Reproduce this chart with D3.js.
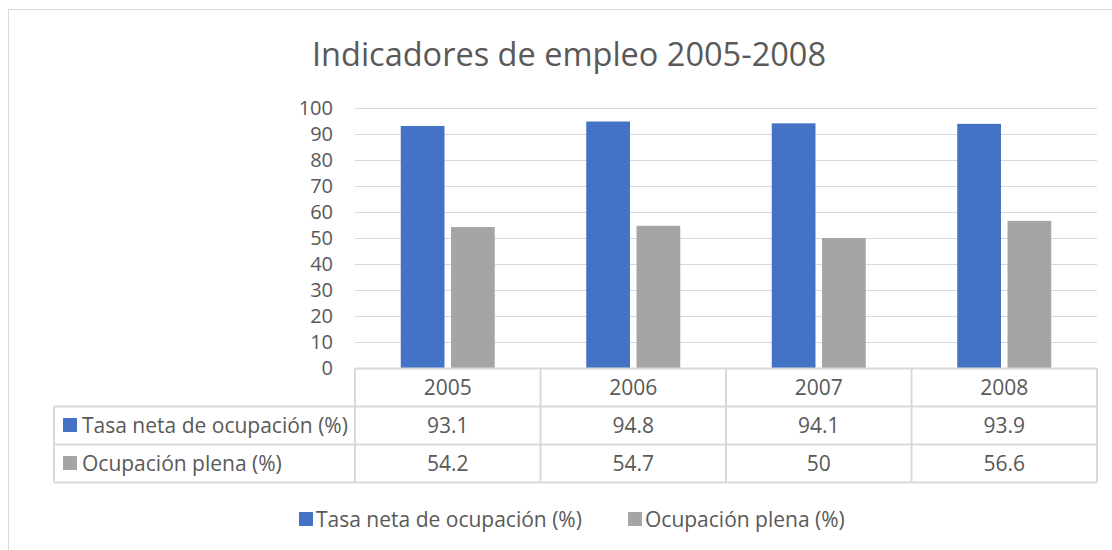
<!DOCTYPE html>
<html>
<head>
<meta charset="utf-8">
<script src="https://cdn.jsdelivr.net/npm/d3@7"></script>
<style>
  body { margin: 0; background: #fff; }
  text { font-family: "Open Sans", "Liberation Sans", sans-serif; fill: #595959; }
</style>
</head>
<body>
<div class="d3Chart"></div>
<script>
// data
var years = ["2005", "2006", "2007", "2008"];
var seriesNames = ["Tasa neta de ocupación (%)", "Ocupación plena (%)"];
var tasaNeta = [93.1, 94.8, 94.1, 93.9];
var ocupacionPlena = [54.2, 54.7, 50, 56.6];
var yTicks = [0, 10, 20, 30, 40, 50, 60, 70, 80, 90, 100];
var colors = ["#4472c4", "#a5a5a5"];

var series = [tasaNeta, ocupacionPlena];

var width = 1112;
var height = 550;
var fontSize = "21px";
var svg = d3.select(".d3Chart").append("svg")
  .attr("width", width)
  .attr("height", height);

// chart frame
svg.append("rect")
  .attr("x", 8.5).attr("y", 9.5)
  .attr("width", 1200).attr("height", 600)
  .attr("fill", "none").attr("stroke", "#d9d9d9").attr("stroke-width", 1);

// title
svg.append("text")
  .attr("x", 569).attr("y", 66)
  .attr("text-anchor", "middle")
  .style("font-size", "32.5px")
  .text("Indicadores de empleo 2005-2008");

// scales
var plotLeft = 355, plotRight = 1097, plotTop = 108, plotBottom = 368;
var x = d3.scaleBand().domain(years).range([plotLeft, plotRight]);
var y = d3.scaleLinear().domain([0, 100]).range([plotBottom, plotTop]);
var inner = d3.scaleBand().domain([0, 1]).range([0, 94]).paddingInner(0.13);

// gridlines
svg.append("g").selectAll("line").data(yTicks.filter(d => d > 0)).enter()
  .append("line")
  .attr("x1", plotLeft).attr("x2", plotRight)
  .attr("y1", d => Math.round(y(d)) + 0.5).attr("y2", d => Math.round(y(d)) + 0.5)
  .attr("stroke", "#d9d9d9").attr("stroke-width", 1);

// y axis labels
var yAxis = svg.append("g")
  .attr("transform", `translate(${plotLeft - 22},0)`)
  .call(d3.axisLeft(y).tickValues(yTicks).tickSize(0).tickPadding(0));
yAxis.select(".domain").remove();
yAxis.selectAll("text").style("font-size", "20px")
  .style("font-family", '"Open Sans", sans-serif').attr("fill", "#595959");

// bars
series.forEach(function (vals, s) {
  svg.append("g").selectAll("rect").data(vals).enter()
    .append("rect")
    .attr("x", (d, i) => x(years[i]) + x.bandwidth() / 2 - 47 + inner(s))
    .attr("y", d => y(d))
    .attr("width", inner.bandwidth())
    .attr("height", d => plotBottom - y(d))
    .attr("fill", colors[s]);
});

// data table
var tableLeft = 54;
var rowEdges = [368, 406, 444, 482];
var table = svg.append("g");
var gridColor = "#d9d9d9";

// horizontal lines
rowEdges.forEach(function (ry, i) {
  table.append("line")
    .attr("x1", i === 0 ? plotLeft : tableLeft)
    .attr("x2", plotRight)
    .attr("y1", ry + 0.5).attr("y2", ry + 0.5)
    .attr("stroke", gridColor).attr("stroke-width", 2);
});
// vertical lines
table.append("line").attr("x1", tableLeft).attr("x2", tableLeft)
  .attr("y1", rowEdges[1]).attr("y2", rowEdges[3])
  .attr("stroke", gridColor).attr("stroke-width", 2);
years.concat(["end"]).forEach(function (yr, i) {
  var vx = i < years.length ? x(yr) : plotRight;
  table.append("line").attr("x1", vx).attr("x2", vx)
    .attr("y1", rowEdges[0]).attr("y2", rowEdges[3])
    .attr("stroke", gridColor).attr("stroke-width", 2);
});

// header
table.selectAll(".hdr").data(years).enter()
  .append("text")
  .attr("x", d => x(d) + x.bandwidth() / 2)
  .attr("y", (rowEdges[0] + rowEdges[1]) / 2 + 8)
  .attr("text-anchor", "middle")
  .style("font-size", fontSize)
  .text(d => d);

// rows
series.forEach(function (vals, s) {
  var cy = (rowEdges[s + 1] + rowEdges[s + 2]) / 2;
  table.append("rect")
    .attr("x", 63).attr("y", cy - 7)
    .attr("width", 14).attr("height", 14)
    .attr("fill", colors[s]);
  table.append("text")
    .attr("x", 82).attr("y", cy + 8)
    .style("font-size", fontSize)
    .text(seriesNames[s]);
  table.append("g").selectAll("text").data(vals).enter()
    .append("text")
    .attr("x", (d, i) => x(years[i]) + x.bandwidth() / 2)
    .attr("y", cy + 8)
    .attr("text-anchor", "middle")
    .style("font-size", fontSize)
    .text(d => d);
});

// legend
var legendX = [299, 628];
var legend = svg.append("g");
seriesNames.forEach(function (name, s) {
  legend.append("rect")
    .attr("x", legendX[s]).attr("y", 512)
    .attr("width", 14).attr("height", 14)
    .attr("fill", colors[s]);
  legend.append("text")
    .attr("x", legendX[s] + 17).attr("y", 527)
    .style("font-size", fontSize)
    .text(name);
});
</script>
</body>
</html>
